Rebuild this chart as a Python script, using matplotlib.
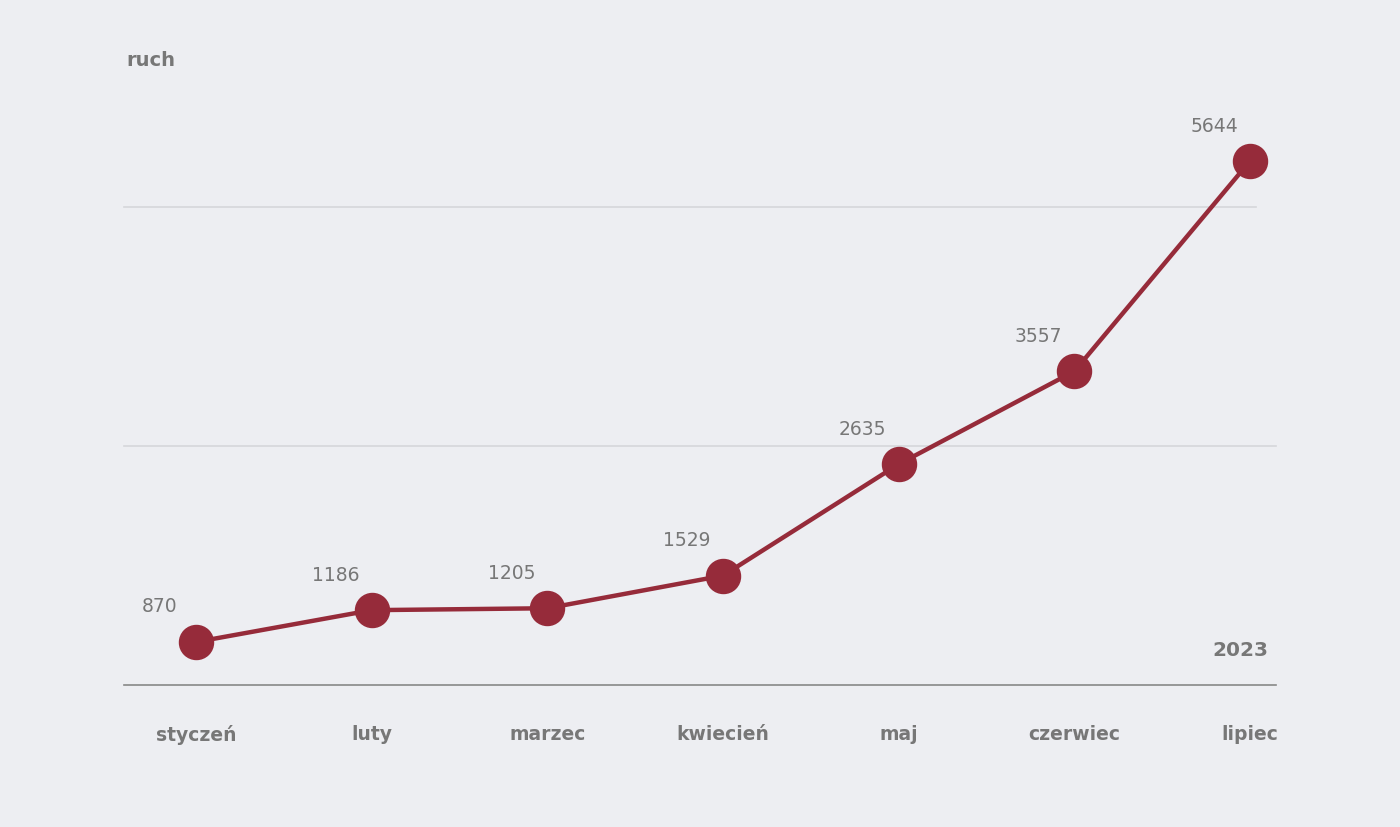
import matplotlib
matplotlib.use("Agg")
import matplotlib.pyplot as plt

months = ["styczeń", "luty", "marzec", "kwiecień", "maj", "czerwiec", "lipiec"]
values = [870, 1186, 1205, 1529, 2635, 3557, 5644]
grid_vals = [2815, 5188]
year = "2023"
ylabel = "ruch"

BG = "#edeef2"
RED = "#962b3a"
GREY = "#777777"

fig = plt.figure(figsize=(14, 8.28), dpi=100, facecolor=BG)
ax = fig.add_axes([0, 0, 1, 1], facecolor=BG)
ax.set_axis_off()
step = 175.67
ppu = 0.10075
ax.set_xlim(-196 / step, (1400 - 196) / step)
ax.set_ylim(870 - 185 / ppu, 870 + 643 / ppu)

def px(x):
    return (x - 196) / step

base = 870 - 43 / ppu
ax.plot([px(124), px(1276)], [base, base], color="#888888", lw=1.2)
ax.plot([px(124), px(1276)], [grid_vals[0]] * 2, color="#d6d7db", lw=1.2)
ax.plot([px(124), px(1256)], [grid_vals[1]] * 2, color="#d6d7db", lw=1.2)

xs = list(range(len(values)))
ax.plot(xs, values, color=RED, lw=3.2, marker="o", markersize=24.5,
        markerfacecolor=RED, markeredgecolor=RED, zorder=3)
for x, v in zip(xs, values):
    ax.text(x - 36 / step, v + 36 / ppu, str(v), ha="center", va="center",
            fontsize=13.5, color=GREY)
for x, m in zip(xs, months):
    ax.text(x, 870 - 92 / ppu, m, ha="center", va="center", fontsize=13.5,
            color=GREY, fontweight="bold")
ax.text(px(126), 870 + 582 / ppu, ylabel, ha="left", va="center", fontsize=14,
        color=GREY, fontweight="bold")
ax.text(px(1268), 870 - 7 / ppu, year, ha="right", va="center", fontsize=14.5,
        color=GREY, fontweight="bold")

fig.savefig("out.png", dpi=100, facecolor=BG)
